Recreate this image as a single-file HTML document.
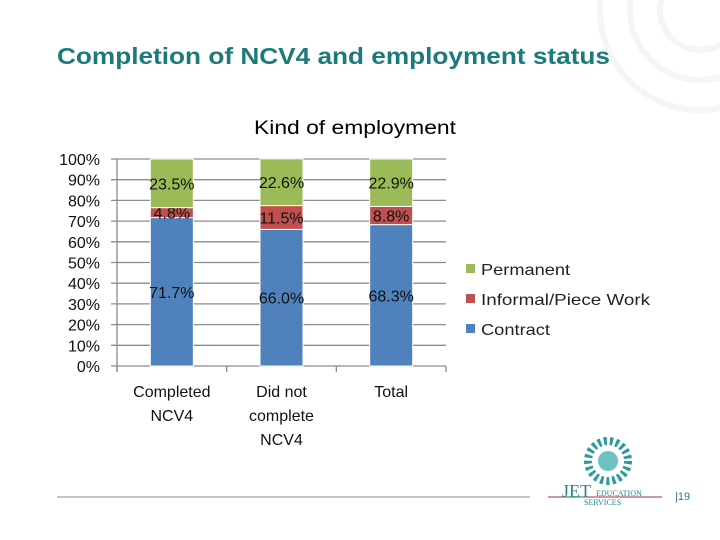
<!DOCTYPE html>
<html><head><meta charset="utf-8"><style>
html,body{margin:0;padding:0;background:#fff;}
body{width:720px;height:540px;position:relative;overflow:hidden;font-family:"Liberation Sans",sans-serif;}
</style></head><body>
<svg width="720" height="540" style="position:absolute;left:0;top:0">
  <g opacity="0.12" fill="none" stroke="#b0b0b0" stroke-width="6">
    <circle cx="700" cy="10" r="40"/><circle cx="700" cy="10" r="70"/><circle cx="700" cy="10" r="100"/>
  </g>
  <text x="57" y="64" font-size="23" font-weight="bold" fill="#1b7b7a" textLength="553" lengthAdjust="spacingAndGlyphs">Completion of NCV4 and employment status</text>
  <text x="254" y="134" font-size="19" fill="#000" textLength="202" lengthAdjust="spacingAndGlyphs">Kind of employment</text>
  <g id="chart"></g>
  <g font-size="16" fill="#222">
    <g><rect x="466" y="264" width="9" height="9" fill="#9bbb59"/><text x="481" y="275" textLength="89" lengthAdjust="spacingAndGlyphs">Permanent</text></g>
    <g><rect x="466" y="294" width="9" height="9" fill="#c0504d"/><text x="481" y="305" textLength="169" lengthAdjust="spacingAndGlyphs">Informal/Piece Work</text></g>
    <g><rect x="466" y="324" width="9" height="9" fill="#4f81bd"/><text x="481" y="335" textLength="69" lengthAdjust="spacingAndGlyphs">Contract</text></g>
  </g>
  <line x1="57" y1="497" x2="530" y2="497" stroke="#888" stroke-width="1"/>
  <line x1="548" y1="497" x2="662" y2="497" stroke="#a03030" stroke-width="1"/>
  <g>
    <circle cx="608" cy="461" r="20" fill="none" stroke="#2a9a9a" stroke-width="8" stroke-dasharray="3 3"/>
    <circle cx="608" cy="461" r="10" fill="#6fc0c0"/>
    <text x="562" y="497" font-family="Liberation Serif" font-size="18" fill="#1f8a8a">JET</text>
    <text x="596" y="496" font-family="Liberation Serif" font-size="8" fill="#1f8a8a">EDUCATION</text>
    <text x="584" y="505" font-family="Liberation Serif" font-size="8" fill="#1f8a8a">SERVICES</text>
  </g>
  <text x="675" y="500" font-size="11" fill="#2a7a8a">|19</text>
</svg>
<script>
const categories=[["Completed","NCV4"],["Did not","complete","NCV4"],["Total"]];
const contract=[71.7,66.0,68.3];
const informal=[4.8,11.5,8.8];
const permanent=[23.5,22.6,22.9];
const yTicks=[0,10,20,30,40,50,60,70,80,90,100];
const NS="http://www.w3.org/2000/svg";
const g=document.getElementById('chart');
const x0=117,x1=446,yTop=159,yBot=366;
const y=v=>yBot-(v/100)*(yBot-yTop);
const bw=(x1-x0)/categories.length;
const cx=i=>x0+bw*(i+0.5);
function mk(t,a){const e=document.createElementNS(NS,t);for(const k in a)e.setAttribute(k,a[k]);g.appendChild(e);return e;}
yTicks.forEach(t=>{
  const l=mk('line',{x1:x0-6,x2:x1,y1:y(t),y2:y(t),stroke:'#8c8c8c','stroke-width':1.3});
  
  
  const tx=mk('text',{x:100,y:y(t)+6,'font-size':16,'text-anchor':'end',fill:'#111'});
  tx.textContent=t+'%';
  
  
});
const ax=mk('line',{x1:x0,x2:x0,y1:yTop,y2:yBot+6,stroke:'#8c8c8c','stroke-width':1.3});


for(let i=0;i<=categories.length;i++){
  const t=mk('line',{x1:x0+bw*i,x2:x0+bw*i,y1:yBot,y2:yBot+6,stroke:'#8c8c8c','stroke-width':1.3});
  
  
}
const series=[[contract,'#4f81bd','contract'],[informal,'#c0504d','informal'],[permanent,'#9bbb59','permanent']];
categories.forEach((c,i)=>{
  let base=0;
  series.forEach(([arr,col,nm])=>{
    const v=arr[i];
    const r=mk('rect',{x:cx(i)-21.5,width:43,y:y(base+v),height:y(base)-y(base+v),fill:col,stroke:'#fff','stroke-width':1});
    
    
    const lb=mk('text',{x:cx(i),y:y(base+v/2)+6,'font-size':16,'text-anchor':'middle',fill:'#111'});
    lb.textContent=v.toFixed(1)+'%';
    
    
    base+=v;
  });
  c.forEach((ln,k)=>{
    const t=mk('text',{x:cx(i),y:397+k*24,'font-size':16,'text-anchor':'middle',fill:'#111'});
    t.textContent=ln;
    
    
  });
});
</script>
</body></html>
